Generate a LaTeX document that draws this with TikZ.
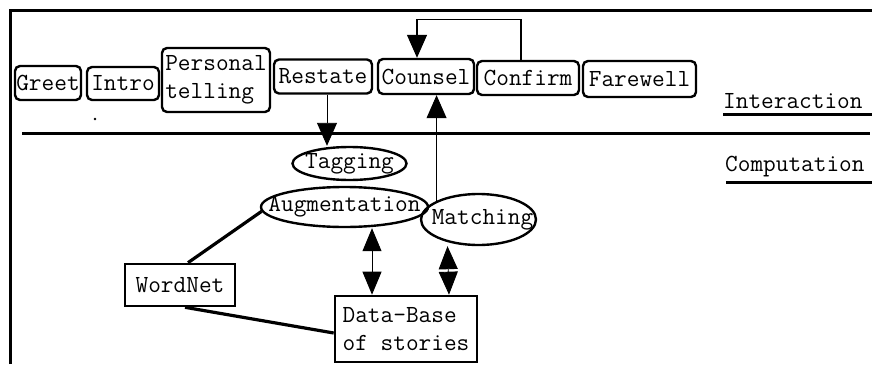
\documentclass[tikz,border=0pt]{standalone}
\usetikzlibrary{arrows.meta,shapes.geometric}
\tikzset{
  base/.style={font=\fontsize{24.6}{28}\ttfamily, inner sep=0pt},
  rbox/.style={base, draw, line width=2.4pt, rounded corners=5pt, align=center},
  sqbox/.style={base, draw, line width=2.6pt, align=left},
  oval/.style={base, draw, ellipse, line width=2.4pt, inner sep=0pt},
  lbl/.style={base, anchor=base west},
  heavy/.style={line width=3.2pt},
  thinarrow/.style={line width=0.9pt, -{Triangle[length=23pt,width=20pt]}},
  dblarrow/.style={line width=0.9pt, {Triangle[length=23pt,width=19pt]}-{Triangle[length=23pt,width=19pt]}}
}
\begin{document}
\begin{tikzpicture}[x=1pt,y=-1pt]
\useasboundingbox (0,0) rectangle (872,364);
% frame
\draw[line width=3pt] (10,364) -- (10,10) -- (872,10);
% interaction boxes
\node[rbox, minimum width=66pt, minimum height=34pt] (greet) at (48,83) {Greet};
\node[rbox, minimum width=72pt, minimum height=33pt] (intro) at (123,83.5) {Intro};
\node[rbox, minimum width=108pt, minimum height=64pt, align=left] (personal) at (216,80) {Personal\\telling};
\node[rbox, minimum width=98pt, minimum height=34pt] (restate) at (323,76.5) {Restate};
\node[rbox, minimum width=96pt, minimum height=35pt] (counsel) at (426,76.5) {Counsel};
\node[rbox, minimum width=102pt, minimum height=34pt] (confirm) at (528,78) {Confirm};
\node[rbox, minimum width=113pt, minimum height=36pt] (farewell) at (639.5,79) {Farewell};
\fill (95,119) circle (1.3pt);
% labels
\node[lbl] (inter) at (723,108) {Interaction};
\draw[line width=3pt] ([yshift=-6pt]inter.base west) -- ([yshift=-6pt]inter.base west -| 872,0);
\node[lbl] (comp) at (725,171) {Computation};
\draw[line width=3pt] ([xshift=1pt,yshift=-11pt]comp.base west) -- ([yshift=-11pt]comp.base west -| 872,0);
% separator
\draw[line width=3pt] (22,133) -- (870,133);
% computation nodes
\node[oval, minimum width=114pt, minimum height=33pt, label={[base]center:Tagging}] (tagging) at (349.5,163.5) {};
\node[oval, minimum width=167pt, minimum height=40pt, label={[base]center:Augmentation}] (aug) at (344.5,207) {};
\node[oval, minimum width=115pt, minimum height=51pt, label={[base,xshift=4pt]center:Matching}] (matching) at (478.5,219.5) {};
\node[sqbox, minimum width=110pt, minimum height=42pt, align=center] (wordnet) at (180,285) {WordNet};
\node[sqbox, minimum width=142pt, minimum height=66pt] (db) at (406,329) {Data-Base\\of stories};
% connectors
\draw[heavy] ([xshift=8pt]wordnet.north) -- (aug.183);
\draw[heavy] ([xshift=5pt]wordnet.south) -- ([yshift=-4pt]db.west);
\draw[dblarrow] ([xshift=-34pt]db.north) -- ([xshift=-34pt]db.north |- aug.south);
\draw[dblarrow] ([xshift=43pt]db.north) -- ([xshift=-31pt]matching.south);
\draw[thinarrow] ([xshift=4pt]restate.south) -- ([xshift=4pt]restate.south |- tagging.north);
\draw[thinarrow] (matching.156) -- (matching.156 |- counsel.south);
\draw[thinarrow, line width=1.3pt] ([xshift=-7pt]confirm.north) -- ++(0,-40) -| ([xshift=-9pt]counsel.north);
\end{tikzpicture}
\end{document}
